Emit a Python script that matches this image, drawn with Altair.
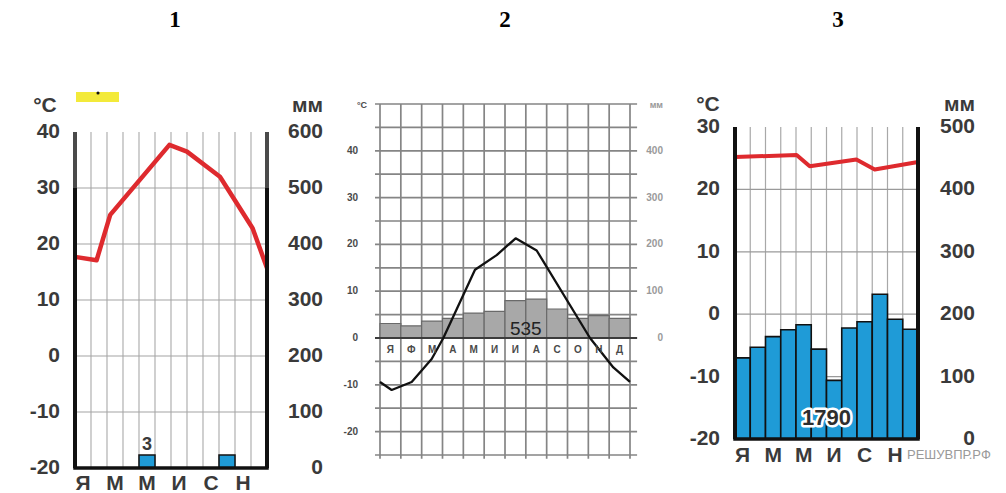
import altair as alt
import pandas as pd

# ---------------- data ----------------
months = ["Я", "Ф", "М", "А", "М", "И", "И", "А", "С", "О", "Н", "Д"]

# diagram 1
t1_pos = [0.0, 1.35, 2.2, 5.9, 7.0, 9.06, 11.1, 12.0]
t1_val = [17.7, 17.1, 25.2, 37.7, 36.5, 32.0, 22.8, 15.7]
p1_mm = [0, 0, 0, 0, 23, 0, 0, 0, 0, 23, 0, 0]
t1_ticks = [40, 30, 20, 10, 0, -10, -20]
p1_ticks = [600, 500, 400, 300, 200, 100, 0]
p1_note = "3"

# diagram 2
t2_pos = [0.0, 0.56, 1.52, 2.48, 3.04, 4.56, 5.6, 6.51, 7.52, 10.08, 11.2, 12.0]
t2_val = [-9.4, -11.1, -9.4, -4.5, 0.0, 14.6, 17.7, 21.3, 18.7, 0.0, -6.3, -9.4]
p2_mm = [31, 26, 36, 42, 53, 57, 80, 83, 62, 42, 48, 42]
t2_ticks = [40, 30, 20, 10, 0, -10, -20]
t2_grid = [50, 45, 40, 35, 30, 25, 20, 15, 10, 5, 0, -5, -10, -15, -20, -25]
p2_ticks = [400, 300, 200, 100, 0]
p2_total = "535"

# diagram 3
t3_pos = [0.0, 4.04, 4.9, 7.96, 9.16, 12.0]
t3_val = [25.2, 25.5, 23.7, 24.8, 23.2, 24.4]
p3_mm = [130, 147, 164, 175, 183, 144, 94, 178, 188, 232, 192, 176]
t3_ticks = [30, 20, 10, 0, -10, -20]
p3_ticks = [500, 400, 300, 200, 100, 0]
p3_total = "1790"

titles = ["1", "2", "3"]
unit_t = "°C"
unit_p = "мм"
watermark = "РЕШУВПР.РФ"

# ---------------- layout / style ----------------
M = 8
H = 477
SANS = "Liberation Sans"
SERIF = "Liberation Serif"
INK = "#3a3a3a"
BLUE = "#1f9bd7"
RED = "#de2a2e"


def lin(va, pa, vb, pb, q1, q2):
    k = (vb - va) / (pb - pa)
    return [va + (q1 - pa) * k, va + (q2 - pa) * k]


class Panel:
    def __init__(self, left, width, x0, x12, t_a, py_a, t_b, py_b, p_a, p_b):
        self.left, self.width = left, width
        self.xs = alt.Scale(domain=lin(0, x0, 12, x12, left, left + width), nice=False, zero=False)
        self.ts = alt.Scale(domain=lin(t_a, py_a, t_b, py_b, M + H, M), nice=False, zero=False)
        self.ps = alt.Scale(domain=lin(p_a, py_a, p_b, py_b, M + H, M), nice=False, zero=False)
        self.layers = []

    def px(self, x):
        return x - self.left

    def py(self, y):
        return y - M

    def X(self, f):
        return alt.X(f + ":Q", scale=self.xs, axis=None)

    def YT(self, f):
        return alt.Y(f + ":Q", scale=self.ts, axis=None)

    def YP(self, f):
        return alt.Y(f + ":Q", scale=self.ps, axis=None)

    def add(self, ch):
        self.layers.append(ch)

    def text(self, s, x, y, size, color=INK, align="center", baseline="middle",
             weight="normal", font=SANS):
        self.add(alt.Chart(pd.DataFrame({"s": [s]})).mark_text(
            align=align, baseline=baseline, fontSize=size, font=font,
            fontWeight=weight, color=color).encode(
            x=alt.value(self.px(x)), y=alt.value(self.py(y)), text="s:N"))

    def chart(self):
        return alt.layer(*self.layers).resolve_scale(y="independent").properties(
            width=self.width, height=H)


def tick_df(vals):
    return pd.DataFrame({"v": vals, "s": [str(v) for v in vals]})


def bar_df(mm):
    d = pd.DataFrame({"m": list(range(12)), "m2": list(range(1, 13)), "mm": mm, "z": 0})
    return d[d.mm > 0]


# ================= panel 1 =================
p = Panel(8, 320, 75, 267, 40, 132, -20, 468, 600, 0)
lo, hi = min(t1_ticks), max(t1_ticks)
p.add(alt.Chart(pd.DataFrame({"x": list(range(1, 12)), "lo": lo, "hi": hi})).mark_rule(
    color="#b0b0b0", strokeWidth=1.2).encode(x=p.X("x"), y=p.YT("lo"), y2=alt.Y2("hi")))
p.add(alt.Chart(pd.DataFrame({"t": t1_ticks[1:-1], "a": 0, "b": 12})).mark_rule(
    color="#a4a4a4", strokeWidth=1.2).encode(y=p.YT("t"), x=p.X("a"), x2=alt.X2("b")))
p.add(alt.Chart(bar_df(p1_mm)).mark_rect(fill=BLUE, stroke="#111", strokeWidth=1.5).encode(
    x=p.X("m"), x2=alt.X2("m2"), y=p.YP("z"), y2=alt.Y2("mm")))
p.add(alt.Chart(pd.DataFrame({"x": t1_pos, "t": t1_val})).mark_line(
    color=RED, strokeWidth=4.5, strokeJoin="round").encode(x=p.X("x"), y=p.YT("t")))
p.add(alt.Chart(pd.DataFrame({"x": [0, 0, 12, 12], "lo": [30, lo, 30, lo], "hi": [hi, 30, hi, 30],
                              "c": ["#4a4a4a", "#111111", "#4a4a4a", "#111111"]})).mark_rule(
    strokeWidth=4).encode(x=p.X("x"), y=p.YT("lo"), y2=alt.Y2("hi"), color=alt.Color("c:N", scale=None)))
p.add(alt.Chart(pd.DataFrame({"a": [0], "b": [12], "t": [lo]})).mark_rule(
    color="#111", strokeWidth=3.5, strokeCap="square").encode(x=p.X("a"), x2=alt.X2("b"), y=p.YT("t")))
p.add(alt.Chart(tick_df(t1_ticks)).mark_text(align="right", baseline="middle", fontSize=21, font=SANS,
                                               fontWeight="bold", color=INK).encode(
    x=alt.value(p.px(60)), y=p.YT("v"), text="s:N"))
p.add(alt.Chart(tick_df(p1_ticks)).mark_text(align="right", baseline="middle", fontSize=21, font=SANS,
                                               fontWeight="bold", color=INK).encode(
    x=alt.value(p.px(323)), y=p.YP("v"), text="s:N"))
p.add(alt.Chart(pd.DataFrame({"x": [i + 0.5 for i in range(0, 12, 2)], "s": months[0::2]})).mark_text(
    baseline="middle", fontSize=21, font=SANS, fontWeight="bold", color=INK).encode(
    x=p.X("x"), y=alt.value(p.py(484)), text="s:N"))
first = next(i for i, v in enumerate(p1_mm) if v > 0)
p.add(alt.Chart(pd.DataFrame({"x": [first + 0.5], "mm": [p1_mm[first]], "s": [p1_note]})).mark_text(
    baseline="alphabetic", dy=-5, fontSize=18, font=SANS, fontWeight="bold", color=INK).encode(
    x=p.X("x"), y=p.YP("mm"), text="s:N"))
p.add(alt.Chart(pd.DataFrame({"k": [1]})).mark_rect(color="#f3ea3a").encode(
    x=alt.value(p.px(76)), x2=alt.value(p.px(119)), y=alt.value(p.py(92)), y2=alt.value(p.py(102))))
p.add(alt.Chart(pd.DataFrame({"k": [1]})).mark_circle(color="#111", opacity=1, size=10).encode(
    x=alt.value(p.px(98)), y=alt.value(p.py(93))))
p.text(unit_t, 45, 112, 21, baseline="alphabetic", weight="bold")
p.text(unit_p, 323, 112, 21, align="right", baseline="alphabetic", weight="bold")
p.text(titles[0], 175, 20, 23, color="#000", weight="bold", font=SERIF)
c1 = p.chart()

# ================= panel 2 =================
p = Panel(328, 350, 380, 630, 50, 104, -25, 455, 500, -250)
glo, ghi = min(t2_grid), max(t2_grid)
p.add(alt.Chart(pd.DataFrame({"x": list(range(0, 13)), "lo": glo - 0.8, "hi": ghi})).mark_rule(
    color="#858585", strokeWidth=1.7).encode(x=p.X("x"), y=p.YT("lo"), y2=alt.Y2("hi")))
p.add(alt.Chart(pd.DataFrame({"t": t2_grid, "a": -0.24, "b": 12.34})).mark_rule(
    color="#858585", strokeWidth=1.7).encode(y=p.YT("t"), x=p.X("a"), x2=alt.X2("b")))
p.add(alt.Chart(bar_df(p2_mm)).mark_rect(fill="#a8a8a8", stroke="#6a6a6a", strokeWidth=1.2).encode(
    x=p.X("m"), x2=alt.X2("m2"), y=p.YP("z"), y2=alt.Y2("mm")))
p.add(alt.Chart(pd.DataFrame({"t": [0], "a": [-0.24], "b": [12.34]})).mark_rule(
    color="#3c3c3c", strokeWidth=2).encode(y=p.YT("t"), x=p.X("a"), x2=alt.X2("b")))
p.add(alt.Chart(pd.DataFrame({"x": t2_pos, "t": t2_val})).mark_line(
    color="#111", strokeWidth=2.3, strokeJoin="round").encode(x=p.X("x"), y=p.YT("t")))
p.add(alt.Chart(tick_df(t2_ticks)).mark_text(align="right", baseline="middle", fontSize=10, font=SANS,
                                               fontWeight="bold", color="#4a4a4a").encode(
    x=alt.value(p.px(358)), y=p.YT("v"), text="s:N"))
p.add(alt.Chart(tick_df(p2_ticks)).mark_text(align="right", baseline="middle", fontSize=10, font=SANS,
                                               fontWeight="bold", color="#9a9a9a").encode(
    x=alt.value(p.px(663)), y=p.YP("v"), text="s:N"))
p.add(alt.Chart(pd.DataFrame({"x": [i + 0.5 for i in range(12)], "s": months})).mark_text(
    baseline="middle", fontSize=10, font=SANS, fontWeight="bold", color="#4a4a4a").encode(
    x=p.X("x"), y=alt.value(p.py(350)), text="s:N"))
p.add(alt.Chart(pd.DataFrame({"x": [7.0], "z": [0], "s": [p2_total]})).mark_text(
    baseline="alphabetic", dy=-3, fontSize=19, font=SANS, color="#222").encode(
    x=p.X("x"), y=p.YP("z"), text="s:N"))
p.text(unit_t, 362, 105, 9, color="#4a4a4a", weight="bold")
p.text(unit_p, 663, 105, 9, color="#9a9a9a", align="right", weight="bold")
p.text(titles[1], 505, 20, 23, color="#000", weight="bold", font=SERIF)
c2 = p.chart()

# ================= panel 3 =================
p = Panel(678, 320, 735, 918, 30, 127, -20, 439, 500, 0)
lo, hi = min(t3_ticks), max(t3_ticks)
p.add(alt.Chart(pd.DataFrame({"x": list(range(1, 12)), "lo": lo, "hi": hi})).mark_rule(
    color="#a8a8a8", strokeWidth=1.2).encode(x=p.X("x"), y=p.YT("lo"), y2=alt.Y2("hi")))
p.add(alt.Chart(pd.DataFrame({"t": t3_ticks[1:-1], "a": 0, "b": 12})).mark_rule(
    color="#9a9a9a", strokeWidth=1.2).encode(y=p.YT("t"), x=p.X("a"), x2=alt.X2("b")))
p.add(alt.Chart(bar_df(p3_mm)).mark_rect(fill=BLUE, stroke="#111", strokeWidth=1.6).encode(
    x=p.X("m"), x2=alt.X2("m2"), y=p.YP("z"), y2=alt.Y2("mm")))
p.add(alt.Chart(pd.DataFrame({"x": t3_pos, "t": t3_val})).mark_line(
    color=RED, strokeWidth=4, strokeJoin="round").encode(x=p.X("x"), y=p.YT("t")))
p.add(alt.Chart(pd.DataFrame({"x": [0, 12], "lo": lo, "hi": hi})).mark_rule(
    color="#111", strokeWidth=4).encode(x=p.X("x"), y=p.YT("lo"), y2=alt.Y2("hi")))
p.add(alt.Chart(pd.DataFrame({"a": [0], "b": [12], "t": [lo]})).mark_rule(
    color="#111", strokeWidth=3.5, strokeCap="square").encode(x=p.X("a"), x2=alt.X2("b"), y=p.YT("t")))
p.add(alt.Chart(tick_df(t3_ticks)).mark_text(align="right", baseline="middle", fontSize=21, font=SANS,
                                               fontWeight="bold", color=INK).encode(
    x=alt.value(p.px(720)), y=p.YT("v"), text="s:N"))
p.add(alt.Chart(tick_df(p3_ticks)).mark_text(align="right", baseline="middle", fontSize=21, font=SANS,
                                               fontWeight="bold", color=INK).encode(
    x=alt.value(p.px(975)), y=p.YP("v"), text="s:N"))
p.add(alt.Chart(pd.DataFrame({"x": [i + 0.5 for i in range(0, 12, 2)], "s": months[0::2]})).mark_text(
    baseline="middle", fontSize=21, font=SANS, fontWeight="bold", color=INK).encode(
    x=p.X("x"), y=alt.value(p.py(456)), text="s:N"))
tot = pd.DataFrame({"x": [6.0], "s": [p3_total]})
p.add(alt.Chart(tot).mark_text(baseline="middle", fontSize=22, font=SANS, fontWeight="bold",
                               color="white", stroke="white", strokeWidth=5, strokeJoin="round").encode(
    x=p.X("x"), y=alt.value(p.py(418)), text="s:N"))
p.add(alt.Chart(tot).mark_text(baseline="middle", fontSize=22, font=SANS, fontWeight="bold",
                               color="#2e2e2e").encode(
    x=p.X("x"), y=alt.value(p.py(418)), text="s:N"))
p.text(watermark, 907, 455, 13, color="#9a9a9a", align="left")
p.text(unit_t, 708, 111, 21, baseline="alphabetic", weight="bold")
p.text(unit_p, 975, 111, 21, align="right", baseline="alphabetic", weight="bold")
p.text(titles[2], 838, 20, 23, color="#000", weight="bold", font=SERIF)
c3 = p.chart()

chart = alt.hconcat(c1, c2, c3, spacing=0, bounds="flush").properties(padding=0).configure_view(stroke=None)
chart.save("out.html", embed_options={"renderer": "svg", "actions": False})
